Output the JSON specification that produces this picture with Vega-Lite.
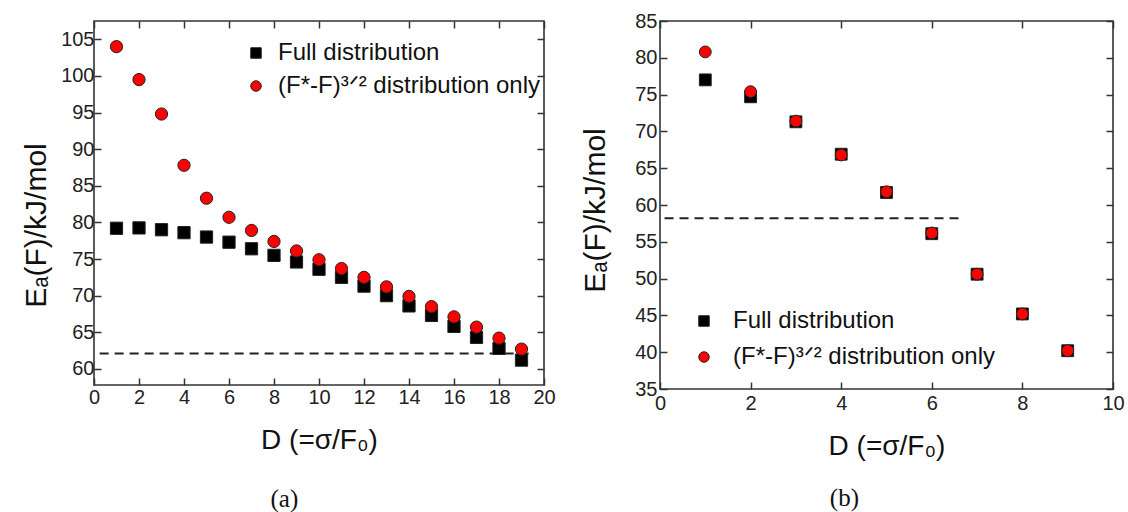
{
  "$schema": "https://vega.github.io/schema/vega-lite/v6.json",
  "background": "white",
  "padding": {"left": 20, "top": 10, "right": 0, "bottom": 0},
  "bounds": "flush",
  "spacing": 116,
  "config": {
    "font": "Liberation Sans",
    "view": {"stroke": "#333", "strokeWidth": 1.6},
    "axis": {
      "grid": false,
      "domain": false,
      "tickSize": -7,
      "tickColor": "#333",
      "tickWidth": 1.5,
      "labelFont": "Liberation Sans",
      "labelFontSize": 20,
      "labelColor": "#222",
      "labelFlush": false,
      "labelOverlap": false,
      "titleFont": "Liberation Sans",
      "titleFontSize": 28,
      "titleFontWeight": "normal",
      "titleColor": "#111"
    },
    "legend": {
      "padding": 0,
      "labelFont": "Liberation Sans",
      "labelFontSize": 24,
      "labelColor": "#111",
      "labelLimit": 0,
      "symbolStrokeColor": "#222",
      "symbolStrokeWidth": 1
    },
    "title": {
      "font": "Liberation Serif",
      "fontSize": 25,
      "fontWeight": "normal",
      "color": "#111",
      "orient": "bottom",
      "anchor": "middle",
      "frame": "bounds"
    }
  },
  "resolve": {"scale": {"color": "independent", "shape": "independent"}, "legend": {"color": "independent", "shape": "independent"}},
  "hconcat": [
    {
      "width": 450,
      "height": 364,
      "title": {"text": "(a)", "offset": 33, "dx": -4},
      "layer": [
        {
          "data": {"values": [{"xs": 0.25, "xe": 19.35, "y": 62.1}]},
          "mark": {"type": "rule", "strokeDash": [9, 6], "strokeWidth": 2, "color": "#222"},
          "encoding": {
            "x": {"field": "xs", "type": "quantitative", "scale": {"domain": [0, 20], "nice": false, "zero": false},
                  "axis": {"orient": "bottom", "values": [0, 2, 4, 6, 8, 10, 12, 14, 16, 18, 20], "labelPadding": 9, "title": "D (=σ/F₀)", "titlePadding": 19}},
            "x2": {"field": "xe"},
            "y": {"field": "y", "type": "quantitative", "scale": {"domain": [57.8, 107.5], "nice": false, "zero": false},
                  "axis": {"orient": "left", "values": [60, 65, 70, 75, 80, 85, 90, 95, 100, 105], "labelPadding": 7, "title": "Eₐ(F)/kJ/mol", "titleFontSize": 30, "titlePadding": 9, "titleY": 204}}
          }
        },
        {
          "data": {"values": [
            {"D": 1, "Ea": 79.2, "series": "Full distribution"},
            {"D": 2, "Ea": 79.25, "series": "Full distribution"},
            {"D": 3, "Ea": 79.0, "series": "Full distribution"},
            {"D": 4, "Ea": 78.6, "series": "Full distribution"},
            {"D": 5, "Ea": 78.0, "series": "Full distribution"},
            {"D": 6, "Ea": 77.3, "series": "Full distribution"},
            {"D": 7, "Ea": 76.4, "series": "Full distribution"},
            {"D": 8, "Ea": 75.5, "series": "Full distribution"},
            {"D": 9, "Ea": 74.6, "series": "Full distribution"},
            {"D": 10, "Ea": 73.6, "series": "Full distribution"},
            {"D": 11, "Ea": 72.5, "series": "Full distribution"},
            {"D": 12, "Ea": 71.3, "series": "Full distribution"},
            {"D": 13, "Ea": 70.0, "series": "Full distribution"},
            {"D": 14, "Ea": 68.6, "series": "Full distribution"},
            {"D": 15, "Ea": 67.3, "series": "Full distribution"},
            {"D": 16, "Ea": 65.8, "series": "Full distribution"},
            {"D": 17, "Ea": 64.3, "series": "Full distribution"},
            {"D": 18, "Ea": 62.8, "series": "Full distribution"},
            {"D": 19, "Ea": 61.2, "series": "Full distribution"},
            {"D": 1, "Ea": 104.0, "series": "(F*-F)³ᐟ² distribution only"},
            {"D": 2, "Ea": 99.5, "series": "(F*-F)³ᐟ² distribution only"},
            {"D": 3, "Ea": 94.8, "series": "(F*-F)³ᐟ² distribution only"},
            {"D": 4, "Ea": 87.8, "series": "(F*-F)³ᐟ² distribution only"},
            {"D": 5, "Ea": 83.3, "series": "(F*-F)³ᐟ² distribution only"},
            {"D": 6, "Ea": 80.7, "series": "(F*-F)³ᐟ² distribution only"},
            {"D": 7, "Ea": 78.9, "series": "(F*-F)³ᐟ² distribution only"},
            {"D": 8, "Ea": 77.4, "series": "(F*-F)³ᐟ² distribution only"},
            {"D": 9, "Ea": 76.1, "series": "(F*-F)³ᐟ² distribution only"},
            {"D": 10, "Ea": 74.9, "series": "(F*-F)³ᐟ² distribution only"},
            {"D": 11, "Ea": 73.7, "series": "(F*-F)³ᐟ² distribution only"},
            {"D": 12, "Ea": 72.5, "series": "(F*-F)³ᐟ² distribution only"},
            {"D": 13, "Ea": 71.2, "series": "(F*-F)³ᐟ² distribution only"},
            {"D": 14, "Ea": 69.9, "series": "(F*-F)³ᐟ² distribution only"},
            {"D": 15, "Ea": 68.5, "series": "(F*-F)³ᐟ² distribution only"},
            {"D": 16, "Ea": 67.1, "series": "(F*-F)³ᐟ² distribution only"},
            {"D": 17, "Ea": 65.7, "series": "(F*-F)³ᐟ² distribution only"},
            {"D": 18, "Ea": 64.2, "series": "(F*-F)³ᐟ² distribution only"},
            {"D": 19, "Ea": 62.7, "series": "(F*-F)³ᐟ² distribution only"}
          ]},
          "mark": {"type": "point", "filled": true, "opacity": 1, "stroke": "#222", "strokeWidth": 1, "size": 150},
          "encoding": {
            "x": {"field": "D", "type": "quantitative", "axis": {"orient": "top", "labels": false, "title": null, "values": [0, 2, 4, 6, 8, 10, 12, 14, 16, 18, 20]}},
            "y": {"field": "Ea", "type": "quantitative", "axis": {"orient": "right", "labels": false, "title": null, "values": [60, 65, 70, 75, 80, 85, 90, 95, 100, 105]}},
            "color": {"field": "series", "type": "nominal",
                      "scale": {"domain": ["Full distribution", "(F*-F)³ᐟ² distribution only"], "range": ["#000000", "#ff0000"]},
                      "legend": {"orient": "none", "legendX": 150, "legendY": 20, "title": null, "symbolSize": 110, "labelOffset": 10, "rowPadding": 9}},
            "shape": {"field": "series", "type": "nominal",
                      "scale": {"domain": ["Full distribution", "(F*-F)³ᐟ² distribution only"], "range": ["square", "circle"]},
                      "legend": {"orient": "none", "legendX": 150, "legendY": 20, "title": null, "symbolSize": 110, "labelOffset": 10, "rowPadding": 9}}
          }
        }
      ]
    },
    {
      "width": 453,
      "height": 368,
      "title": {"text": "(b)", "offset": 26, "dx": -8},
      "layer": [
        {
          "data": {"values": [{"xs": 0.1, "xe": 6.6, "y": 58.2}]},
          "mark": {"type": "rule", "strokeDash": [9, 6], "strokeWidth": 2, "color": "#222"},
          "encoding": {
            "x": {"field": "xs", "type": "quantitative", "scale": {"domain": [0, 10], "nice": false, "zero": false},
                  "axis": {"orient": "bottom", "values": [0, 2, 4, 6, 8, 10], "labelPadding": 11, "title": "D (=σ/F₀)", "titlePadding": 19}},
            "x2": {"field": "xe"},
            "y": {"field": "y", "type": "quantitative", "scale": {"domain": [35, 85], "nice": false, "zero": false},
                  "axis": {"orient": "left", "values": [35, 40, 45, 50, 55, 60, 65, 70, 75, 80, 85], "labelPadding": 10, "title": "Eₐ(F)/kJ/mol", "titleFontSize": 30, "titlePadding": 24, "titleY": 189}}
          }
        },
        {
          "data": {"values": [
            {"D": 1, "Ea": 77.0, "series": "Full distribution"},
            {"D": 2, "Ea": 74.7, "series": "Full distribution"},
            {"D": 3, "Ea": 71.3, "series": "Full distribution"},
            {"D": 4, "Ea": 66.9, "series": "Full distribution"},
            {"D": 5, "Ea": 61.7, "series": "Full distribution"},
            {"D": 6, "Ea": 56.1, "series": "Full distribution"},
            {"D": 7, "Ea": 50.6, "series": "Full distribution"},
            {"D": 8, "Ea": 45.2, "series": "Full distribution"},
            {"D": 9, "Ea": 40.2, "series": "Full distribution"},
            {"D": 1, "Ea": 80.8, "series": "(F*-F)³ᐟ² distribution only"},
            {"D": 2, "Ea": 75.4, "series": "(F*-F)³ᐟ² distribution only"},
            {"D": 3, "Ea": 71.4, "series": "(F*-F)³ᐟ² distribution only"},
            {"D": 4, "Ea": 66.8, "series": "(F*-F)³ᐟ² distribution only"},
            {"D": 5, "Ea": 61.8, "series": "(F*-F)³ᐟ² distribution only"},
            {"D": 6, "Ea": 56.2, "series": "(F*-F)³ᐟ² distribution only"},
            {"D": 7, "Ea": 50.6, "series": "(F*-F)³ᐟ² distribution only"},
            {"D": 8, "Ea": 45.2, "series": "(F*-F)³ᐟ² distribution only"},
            {"D": 9, "Ea": 40.2, "series": "(F*-F)³ᐟ² distribution only"}
          ]},
          "mark": {"type": "point", "filled": true, "opacity": 1, "stroke": "#222", "strokeWidth": 1, "size": 140},
          "encoding": {
            "x": {"field": "D", "type": "quantitative", "axis": {"orient": "top", "labels": false, "title": null, "values": [0, 2, 4, 6, 8, 10]}},
            "y": {"field": "Ea", "type": "quantitative", "axis": {"orient": "right", "labels": false, "title": null, "values": [35, 40, 45, 50, 55, 60, 65, 70, 75, 80, 85]}},
            "color": {"field": "series", "type": "nominal",
                      "scale": {"domain": ["Full distribution", "(F*-F)³ᐟ² distribution only"], "range": ["#000000", "#ff0000"]},
                      "legend": {"orient": "none", "legendX": 32, "legendY": 288, "title": null, "symbolSize": 110, "labelOffset": 17, "rowPadding": 12}},
            "shape": {"field": "series", "type": "nominal",
                      "scale": {"domain": ["Full distribution", "(F*-F)³ᐟ² distribution only"], "range": ["square", "circle"]},
                      "legend": {"orient": "none", "legendX": 32, "legendY": 288, "title": null, "symbolSize": 110, "labelOffset": 17, "rowPadding": 12}}
          }
        }
      ]
    }
  ]
}
